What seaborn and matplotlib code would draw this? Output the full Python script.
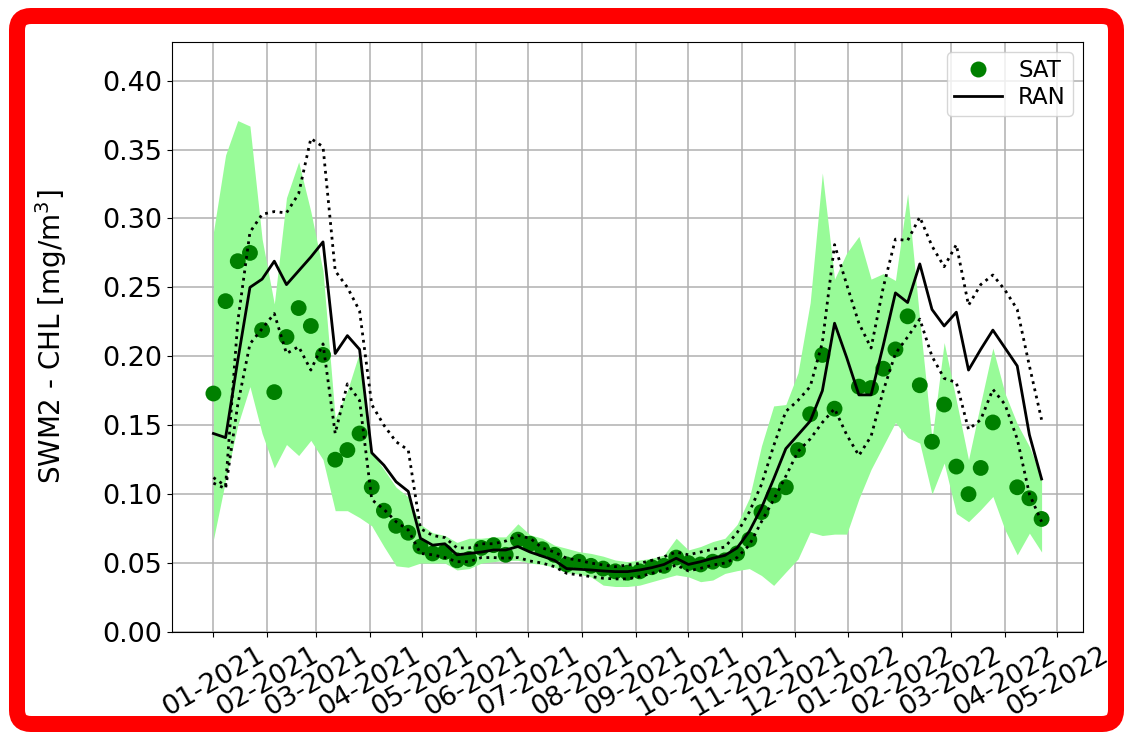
import numpy as np
import pandas as pd
import matplotlib
matplotlib.use("Agg")
import matplotlib.pyplot as plt
import matplotlib.dates as mdates
from matplotlib.patches import FancyBboxPatch
from matplotlib.lines import Line2D
from matplotlib.transforms import IdentityTransform
import seaborn as sns

# ---------------- data (weekly, starting 2021-01-01) ----------------
start_date = "2021-01-01"

sat = [0.173, 0.240, 0.269, 0.275, 0.219, 0.174, 0.214, 0.235, 0.222, 0.201,
       0.125, 0.132, 0.144, 0.105, 0.088, 0.077, 0.072, 0.062, 0.057, 0.058,
       0.052, 0.053, 0.061, 0.063, 0.056, 0.067, 0.064, 0.060, 0.056, 0.049,
       0.051, 0.048, 0.046, 0.044, 0.043, 0.044, 0.047, 0.048, 0.054, 0.050,
       0.049, 0.051, 0.052, 0.057, 0.067, 0.087, 0.099, 0.105, 0.132, 0.158,
       0.201, 0.162, np.nan, 0.178, 0.177, 0.191, 0.205, 0.229, 0.179, 0.138,
       0.165, 0.120, 0.100, 0.119, 0.152, np.nan, 0.105, 0.097, 0.082]

sat_lo = [0.067, 0.110, 0.150, 0.178, 0.144, 0.119, 0.136, 0.128, 0.139, 0.125,
          0.088, 0.088, 0.083, 0.077, 0.062, 0.048, 0.047, 0.050, 0.050, 0.050,
          0.045, 0.046, 0.050, 0.051, 0.052, 0.052, 0.050, 0.049, 0.047, 0.043,
          0.042, 0.040, 0.034, 0.033, 0.033, 0.034, 0.0365, 0.039, 0.0414, 0.040,
          0.0365, 0.0377, 0.0425, 0.0445, 0.046, 0.041, 0.0338, 0.0435, 0.053, 0.0725,
          0.070, 0.071, 0.071, 0.0966, 0.118, 0.135, 0.152, 0.141, 0.137, 0.100,
          0.1225, 0.086, 0.080, 0.0887, 0.0983, 0.074, 0.056, 0.0717, 0.058]

sat_hi = [0.290, 0.346, 0.371, 0.367, 0.285, 0.238, 0.315, 0.341, 0.305, 0.262,
          0.155, 0.175, 0.203, 0.130, 0.118, 0.105, 0.098, 0.078, 0.072, 0.070,
          0.065, 0.068, 0.068, 0.069, 0.069, 0.0785, 0.0705, 0.068, 0.063, 0.0607,
          0.0583, 0.057, 0.055, 0.0522, 0.051, 0.0522, 0.0535, 0.0559, 0.068, 0.0595,
          0.062, 0.0656, 0.068, 0.078, 0.097, 0.135, 0.164, 0.165, 0.188, 0.239,
          0.333, 0.256, 0.275, 0.287, 0.256, 0.260, 0.255, 0.318, 0.226, 0.140,
          0.210, 0.168, 0.125, 0.166, 0.206, 0.173, 0.151, 0.1345, 0.112]

ran = [0.144, 0.141, 0.197, 0.250, 0.256, 0.269, 0.252, 0.262, 0.272, 0.283,
       0.202, 0.215, 0.205, 0.130, 0.121, 0.109, 0.102, 0.068, 0.063, 0.064,
       0.056, 0.057, 0.058, 0.0595, 0.0595, 0.062, 0.058, 0.055, 0.052, 0.046,
       0.0455, 0.045, 0.0443, 0.0438, 0.0438, 0.045, 0.0467, 0.049, 0.0535, 0.049,
       0.051, 0.0535, 0.0556, 0.061, 0.073, 0.090, 0.111, 0.133, 0.143, 0.153,
       0.175, 0.224, 0.199, 0.172, 0.172, 0.208, 0.246, 0.239, 0.267, 0.234,
       0.222, 0.232, 0.190, 0.205, 0.219, 0.206, 0.193, 0.143, 0.111]

ran_lo = [0.108, 0.104, 0.165, 0.209, 0.220, 0.231, 0.202, 0.207, 0.190, 0.209,
          0.144, 0.180, 0.168, 0.096, 0.089, 0.080, 0.074, 0.057, 0.056, 0.054,
          0.051, 0.051, 0.054, 0.054, 0.0535, 0.054, 0.0515, 0.050, 0.0474, 0.0426,
          0.0414, 0.0402, 0.039, 0.0385, 0.0385, 0.0402, 0.0426, 0.045, 0.0486, 0.0443,
          0.0462, 0.0486, 0.050, 0.054, 0.063, 0.080, 0.096, 0.113, 0.131, 0.140,
          0.152, 0.162, 0.143, 0.128, 0.142, 0.175, 0.202, 0.214, 0.227, 0.200,
          0.184, 0.181, 0.147, 0.154, 0.176, 0.165, 0.140, 0.100, 0.080]

ran_hi = [0.112, 0.106, 0.225, 0.290, 0.303, 0.305, 0.304, 0.318, 0.358, 0.352,
          0.262, 0.250, 0.233, 0.165, 0.150, 0.138, 0.132, 0.075, 0.070, 0.0685,
          0.061, 0.061, 0.064, 0.064, 0.066, 0.070, 0.068, 0.061, 0.058, 0.0535,
          0.052, 0.050, 0.0486, 0.0474, 0.0486, 0.0498, 0.052, 0.0546, 0.058, 0.056,
          0.058, 0.060, 0.0616, 0.072, 0.087, 0.107, 0.135, 0.160, 0.168, 0.178,
          0.210, 0.281, 0.252, 0.224, 0.206, 0.250, 0.285, 0.284, 0.301, 0.280,
          0.265, 0.281, 0.237, 0.252, 0.259, 0.248, 0.234, 0.193, 0.154]

yticks = [0.00, 0.05, 0.10, 0.15, 0.20, 0.25, 0.30, 0.35, 0.40]
ylabel = "SWM2 - CHL [mg/m$^3$]"
legend_labels = ["SAT", "RAN"]

# ---------------- figure ----------------
dates = pd.date_range(start_date, periods=len(sat), freq="7D")
df = pd.DataFrame({"date": dates, "sat": sat, "sat_lo": sat_lo, "sat_hi": sat_hi,
                   "ran": ran, "ran_lo": ran_lo, "ran_hi": ran_hi})

TICK_FS = 19.5
LABEL_FS = 20
LEG_FS = 16.5

fig = plt.figure(figsize=(11.27, 7.36), dpi=100)
fig.patch.set_facecolor("white")
ax = fig.add_axes([172 / 1127, 1 - 632 / 736, (1083 - 172) / 1127, (632 - 42) / 736])
ax.set_axisbelow(True)
ax.grid(True, color="#b0b0b0", linewidth=1.1)

ax.fill_between(df["date"], df["sat_lo"], df["sat_hi"], color="palegreen",
                linewidth=0, zorder=1)
sns.scatterplot(data=df, x="date", y="sat", color="green", s=130,
                edgecolor="none", ax=ax, zorder=3, legend=False)
sns.lineplot(data=df, x="date", y="ran", color="black", linewidth=2,
             ax=ax, zorder=4, legend=False)
sns.lineplot(data=df, x="date", y="ran_hi", color="black", linewidth=2,
             linestyle=":", ax=ax, zorder=5, legend=False)
sns.lineplot(data=df, x="date", y="ran_lo", color="black", linewidth=2,
             linestyle=":", ax=ax, zorder=5, legend=False)

ax.set_ylim(0, 0.428)
ax.set_yticks(yticks)
ax.yaxis.set_major_formatter(matplotlib.ticker.FormatStrFormatter("%.2f"))
ax.xaxis.set_major_locator(mdates.MonthLocator())
ax.xaxis.set_major_formatter(mdates.DateFormatter("%m-%Y"))
ax.tick_params(axis="both", labelsize=TICK_FS)
plt.setp(ax.get_xticklabels(), rotation=30, ha="center")
ax.set_xlabel("")
ax.set_ylabel(ylabel, fontsize=LABEL_FS, labelpad=24)

handles = [Line2D([], [], marker="o", linestyle="none", color="green",
                  markersize=11.5, markeredgewidth=0),
           Line2D([], [], color="black", linewidth=2)]
ax.legend(handles, legend_labels, loc="upper right", fontsize=LEG_FS,
          handlelength=2.1, borderpad=0.3, labelspacing=0.15,
          handletextpad=0.7, borderaxespad=0.45)

border = FancyBboxPatch((17, 12), 1099, 708,
                        boxstyle="round,pad=0,rounding_size=14",
                        transform=IdentityTransform(), fill=False,
                        edgecolor="red", linewidth=16 * 72 / 100, zorder=10)
fig.add_artist(border)

fig.savefig("out.png", dpi=100, facecolor="white")
